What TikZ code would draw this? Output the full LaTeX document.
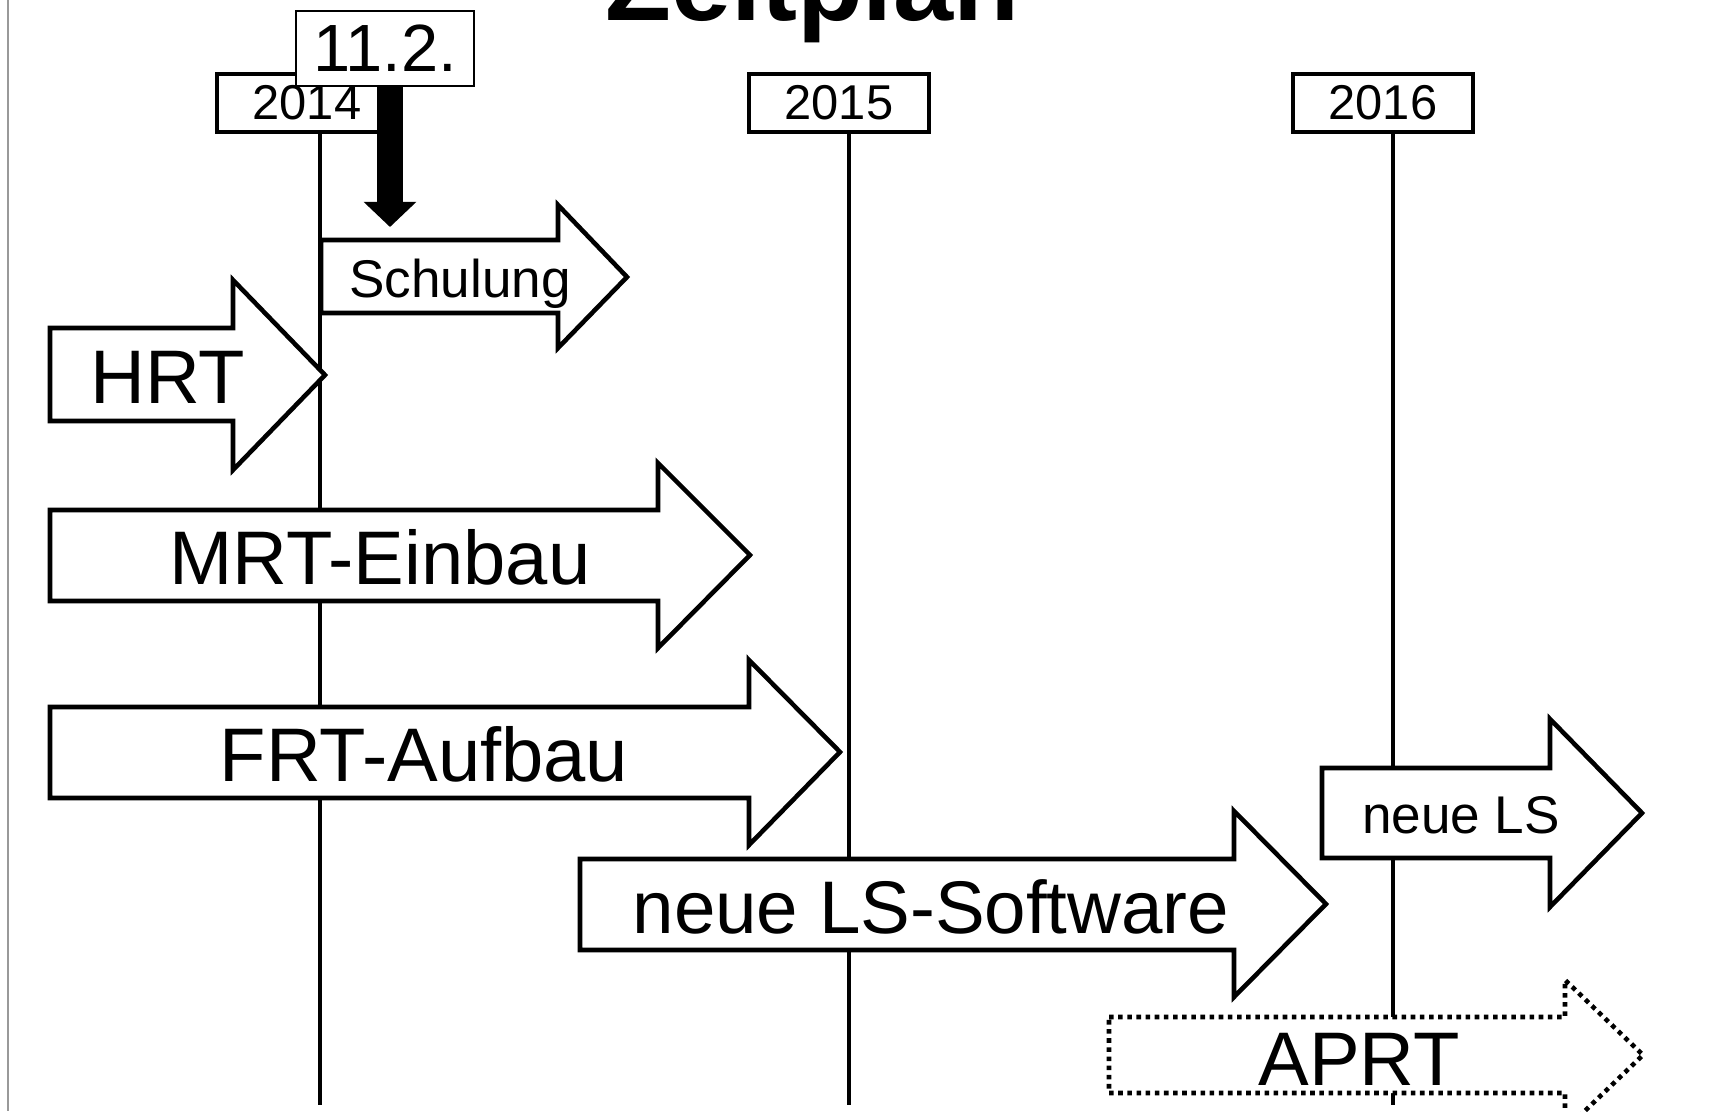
\documentclass[tikz,border=0pt]{standalone}
\usepackage{fontspec}
\setmainfont{Liberation Sans}
\usetikzlibrary{arrows.meta}

\begin{document}
\begin{tikzpicture}[
    x=0.01cm, y=-0.01cm,
    year/.style={draw, line width=1.3pt, fill=white, minimum width=1.8cm, minimum height=0.58cm, inner sep=0pt, font=\fontsize{13.9}{16}\selectfont},
    datum/.style={draw, line width=0.5pt, fill=white, minimum width=1.78cm, minimum height=0.75cm, inner sep=0pt, font=\fontsize{19}{22}\selectfont},
    tl/.style={line width=1.2pt},
    balken/.style={draw, line width=1.3pt, fill=white, line join=miter},
    geplant/.style={balken, dash pattern=on 1.3pt off 1.3pt},
    big/.style={anchor=base, inner sep=0pt, font=\fontsize{21.6}{25}\selectfont},
    small/.style={anchor=base, inner sep=0pt, font=\fontsize{15.1}{18}\selectfont},
    pin/.style={line width=0.26cm, -{Triangle[width=0.51cm, length=0.25cm]}}
]
\useasboundingbox (0,0) rectangle (1714,1111);
\draw[gray!80, line width=0.6pt] (8,0) -- (8,1111);

% Titel
\node[anchor=base, inner sep=0pt, font=\fontsize{30.7}{35}\selectfont\bfseries] (titel) at (812,20) {Zeitplan};

% Jahre
\coordinate (b2014) at (320,1105);
\coordinate (b2015) at (849,1105);
\coordinate (b2016) at (1393,1105);
\node[year] (y2014) at (307,103) {2014};
\node[year] (y2015) at (839,103) {2015};
\node[year] (y2016) at (1383,103) {2016};
\draw[tl] (b2014 |- y2014.south) -- (b2014);
\draw[tl] (b2015 |- y2015.south) -- (b2015);
\draw[tl] (b2016 |- y2016.south) -- (b2016);

% Balken
\draw[balken] (50,328) -- (233,328) -- (233,280) -- (325,375) -- (233,470) -- (233,421) -- (50,421) -- cycle;
\draw[balken] (321,240) -- (558,240) -- (558,205) -- (627,277) -- (558,348) -- (558,313) -- (321,313) -- cycle;
\draw[balken] (50,510) -- (658,510) -- (658,463) -- (750,555) -- (658,648) -- (658,601) -- (50,601) -- cycle;
\draw[balken] (50,707) -- (749,707) -- (749,660) -- (840,752) -- (749,845) -- (749,798) -- (50,798) -- cycle;
\draw[balken] (580,859) -- (1234,859) -- (1234,811) -- (1326,904) -- (1234,997) -- (1234,950) -- (580,950) -- cycle;
\draw[balken] (1322,768) -- (1550,768) -- (1550,719) -- (1642,813) -- (1550,907) -- (1550,858) -- (1322,858) -- cycle;
\draw[geplant] (1109,1017) -- (1565,1017) -- (1565,980) -- (1643,1055) -- (1565,1130) -- (1565,1093) -- (1109,1093) -- cycle;

\node[big] (hrt) at (168,403) {HRT};
\node[small] (schulung) at (460,297) {Schulung};
\node[big] (mrt) at (380,584) {MRT-Einbau};
\node[big] (frt) at (424,781) {FRT-Aufbau};
\node[big, font=\fontsize{21.2}{25}\selectfont] (lssw) at (931,933) {neue LS-Software};
\node[small] (neuels) at (1461,833) {neue LS};
\node[big] (aprt) at (1359,1085) {APRT};

% Stichtag
\coordinate (pinende) at (390,227);
\node[datum] (d112) at (385,48.5) {11.2.};
\draw[pin] (d112.south -| pinende) -- (pinende);

\end{tikzpicture}
\end{document}
